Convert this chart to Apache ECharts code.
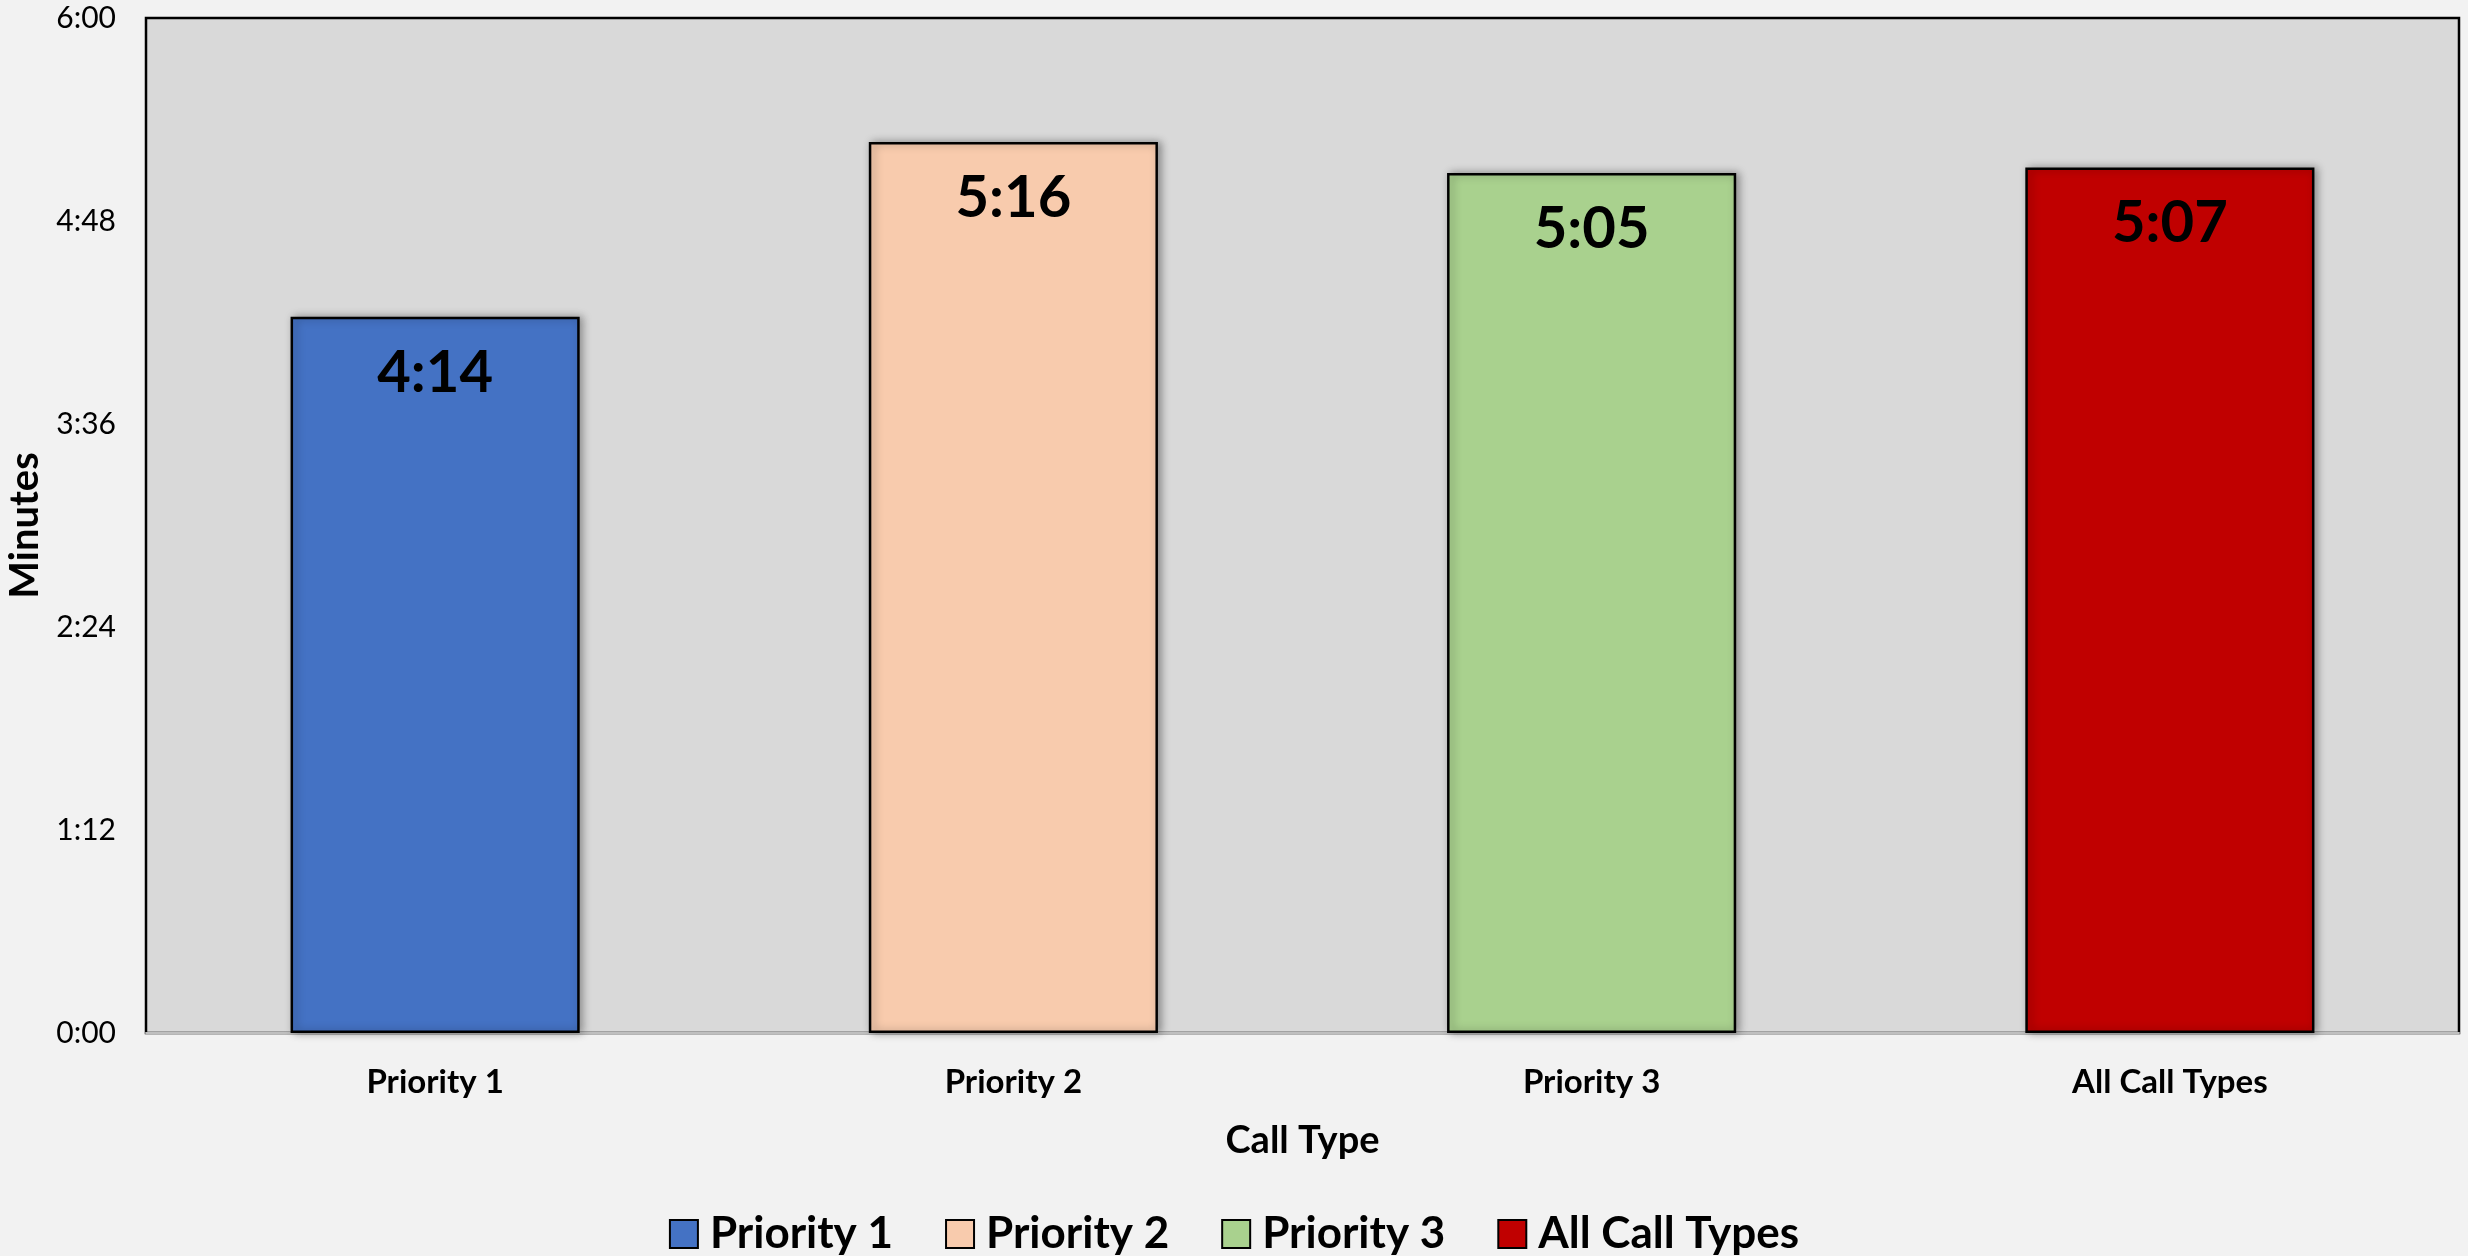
<!DOCTYPE html>
<html>
<head>
<meta charset="utf-8">
<script src="https://cdn.jsdelivr.net/npm/echarts@6/dist/echarts.min.js"></script>
<style>
  html, body { margin: 0; padding: 0; background: #F2F2F2; }
  #main { width: 2468px; height: 1256px; }
</style>
</head>
<body>
<div id="main"></div>
<script>
// 数据：平均时长（秒）
var categories = ['Priority 1', 'Priority 2', 'Priority 3', 'All Call Types'];
var seconds = [254, 316, 305, 307];
var colors = ['#4472C4', '#F8CBAD', '#A9D18E', '#C00000'];
var yTicks = [0, 72, 144, 216, 288, 360];

function fmt(v) {
    var m = Math.floor(v / 60);
    var s = Math.round(v % 60);
    return m + ':' + (s < 10 ? '0' + s : s);
}

var font = 'Lato, "Open Sans", sans-serif';

var series = categories.map(function (name, i) {
    var data = categories.map(function (c, j) { return j === i ? seconds[i] : '-'; });
    return {
        name: name,
        type: 'bar',
        stack: 'calls',
        barWidth: '50%',
        data: data,
        itemStyle: {
            color: colors[i],
            borderColor: '#000',
            borderWidth: 2.5,
            shadowColor: 'rgba(0,0,0,0.35)',
            shadowBlur: 8,
            shadowOffsetX: 3
        },
        label: {
            show: true,
            position: 'insideTop',
            distance: 27,
            formatter: function (p) { return fmt(p.value); },
            color: '#000',
            fontSize: 58,
            fontWeight: 'bold',
            fontFamily: font
        }
    };
});

var myChart = echarts.init(document.getElementById('main'));
var option = {
    backgroundColor: '#F2F2F2',
    animation: false,
    grid: {
        left: 146,
        right: 9,
        top: 18,
        bottom: 223,
        outerBoundsMode: 'none',
        show: true,
        backgroundColor: '#D9D9D9',
        borderColor: '#000',
        borderWidth: 2.5
    },
    legend: {
        data: categories,
        top: 1207,
        left: 'center',
        icon: 'rect',
        itemWidth: 28,
        itemHeight: 28,
        itemGap: 52,
        textStyle: {
            fontSize: 44,
            fontWeight: 'bold',
            color: '#000',
            fontFamily: font,
            padding: [0, 0, 0, 7]
        }
    },
    xAxis: {
        type: 'category',
        data: categories,
        name: 'Call Type',
        nameLocation: 'middle',
        nameGap: 89,
        nameTextStyle: { fontSize: 38, fontWeight: 'bold', color: '#000', fontFamily: font },
        axisLine: { show: true, lineStyle: { color: '#BFBFBF', width: 2 } },
        axisTick: { show: false },
        axisLabel: { fontSize: 33, fontWeight: 'bold', color: '#000', margin: 33, fontFamily: font }
    },
    yAxis: {
        type: 'value',
        min: 0,
        max: 360,
        interval: 72,
        name: 'Minutes',
        nameLocation: 'middle',
        nameGap: 96,
        nameTextStyle: { fontSize: 40, fontWeight: 'bold', color: '#000', fontFamily: font },
        axisLine: { show: false },
        axisTick: { show: false },
        splitLine: { show: false },
        axisLabel: {
            fontSize: 30,
            color: '#000',
            margin: 30,
            fontFamily: font,
            formatter: function (v) { return yTicks.indexOf(v) >= 0 ? fmt(v) : ''; }
        }
    },
    series: series
};
option && myChart.setOption(option);
</script>
</body>
</html>
